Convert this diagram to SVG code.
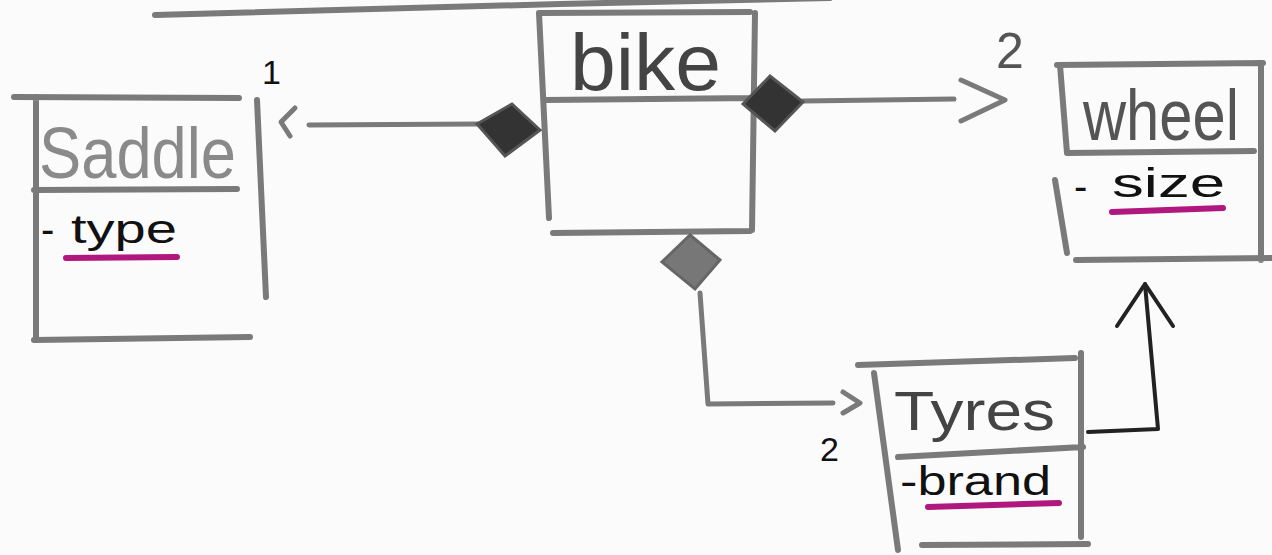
<svg xmlns="http://www.w3.org/2000/svg" width="1272" height="555" viewBox="0 0 1272 555">
<style>
.box{fill:none;stroke:#7a7a7a;stroke-width:6;stroke-linecap:round;stroke-linejoin:round}
.conn{fill:none;stroke:#7a7a7a;stroke-width:5;stroke-linecap:round;stroke-linejoin:round}
.dark{fill:none;stroke:#222;stroke-width:4;stroke-linecap:round;stroke-linejoin:round}
.ul{fill:none;stroke:#b0187f;stroke-width:6;stroke-linecap:round}
.t{font-family:"Liberation Sans","DejaVu Sans",sans-serif}
.attr{font-size:40px;fill:#111}
.mult{font-size:34px;fill:#111}
</style>
<rect width="1272" height="555" fill="#fbfbfb"/>
<path class="box" d="M155 15 L560 4 L830 -2"/>

<g id="saddle">
<path class="box" d="M14 97 L239 98 M36 97 L36 340 M34 190 L237 189 M34 340 L250 337 M257 100 L266 297"/>
<text class="t" x="39" y="178" style="font-size:72px;fill:#8a8a8a" textLength="197" lengthAdjust="spacingAndGlyphs">Saddle</text>
<text class="t attr" x="41" y="243">-</text>
<text class="t attr" x="71" y="243" textLength="106" lengthAdjust="spacingAndGlyphs">type</text>
<path class="ul" d="M66 258 L177 257"/>
</g>

<g id="bike">
<path class="box" d="M539 13 L750 12 M539 13 L549 218 M755 13 L752 230 M545 100 L755 98 M553 233 L750 231"/>
<text class="t" x="570" y="90" style="font-size:80px;fill:#444" textLength="151" lengthAdjust="spacingAndGlyphs">bike</text>
</g>

<g id="wheel">
<path class="box" d="M1057 65 L1263 63 M1060 65 L1067 153 M1055 180 L1067 253 M1261 65 L1261 260 M1067 153 L1254 151 M1076 260 L1272 258"/>
<text class="t" x="1083" y="140" style="font-size:72px;fill:#555" textLength="156" lengthAdjust="spacingAndGlyphs">wheel</text>
<text class="t attr" x="1074" y="200">-</text>
<text class="t attr" x="1112" y="197" textLength="113" lengthAdjust="spacingAndGlyphs">size</text>
<path class="ul" d="M1112 212 L1223 208"/>
</g>

<g id="tyres">
<path class="box" d="M858 365 L1075 358 M874 373 L898 550 M1081 353 L1081 537 M898 457 L1083 447 M922 545 L1088 544"/>
<text class="t" x="894" y="430" style="font-size:56px;fill:#444" textLength="161" lengthAdjust="spacingAndGlyphs">Tyres</text>
<text class="t attr" x="900" y="495" textLength="151" lengthAdjust="spacingAndGlyphs">-brand</text>
<path class="ul" d="M928 507 L1059 503"/>
</g>

<g id="connectors">
<path class="conn" d="M309 125 L479 124"/>
<path class="conn" d="M295 108 L281 122 L290 136" stroke="#999"/>
<polygon points="477,124 512,104 540,130 505,156" fill="#333" stroke="#555" stroke-width="3"/>
<path class="conn" d="M803 101 L954 99"/>
<polygon points="743,104 770,76 803,102 775,131" fill="#333" stroke="#555" stroke-width="3"/>
<path class="conn" d="M961 80 L1005 100 L961 121"/>
<polygon points="690,235 720,260 695,289 662,262" fill="#777" stroke="#666" stroke-width="3"/>
<path class="conn" d="M700 293 L708 404 L833 403"/>
<path class="conn" d="M843 392 L860 403 L843 413"/>
<path class="dark" d="M1088 432 L1158 429 L1145 284"/>
<path class="dark" d="M1117 326 L1145 284 L1173 326"/>
</g>

<g id="labels">
<text class="t mult" x="262" y="84">1</text>
<text class="t" x="996" y="68" style="font-size:50px;fill:#555">2</text>
<text class="t mult" x="820" y="461">2</text>
</g>
</svg>
